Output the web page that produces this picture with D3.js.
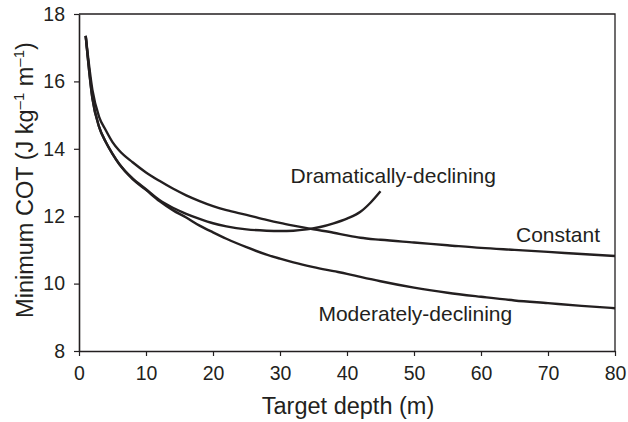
<!DOCTYPE html>
<html>
<head>
<meta charset="utf-8">
<script src="https://cdn.jsdelivr.net/npm/d3@7"></script>
<style>
  html, body { margin: 0; padding: 0; background: #fff; }
  svg { display: block; }
  text { font-family: "Liberation Sans", Arial, Helvetica, sans-serif; fill: #231f20; }
</style>
</head>
<body>
<svg id="chart" width="628" height="422"></svg>
<script>
// Minimum cost of transport versus target dive depth for three scenarios
const depths = [1, 2, 3, 4, 5, 6, 8, 10, 12, 14, 16, 18, 20, 22, 25, 28, 30, 32, 35, 38, 40, 42, 45, 50, 55, 60, 65, 70, 75, 80];
const constantCOT = [17.35, 15.75, 14.95, 14.55, 14.2, 13.95, 13.6, 13.3, 13.05, 12.82, 12.62, 12.45, 12.3, 12.18, 12.04, 11.89, 11.8, 11.72, 11.61, 11.51, 11.43, 11.36, 11.3, 11.22, 11.14, 11.06, 11.0, 10.94, 10.88, 10.82];
const moderateCOT = [17.35, 15.5, 14.65, 14.2, 13.85, 13.55, 13.1, 12.78, 12.45, 12.18, 11.96, 11.72, 11.52, 11.33, 11.08, 10.86, 10.74, 10.63, 10.49, 10.37, 10.29, 10.2, 10.07, 9.88, 9.73, 9.61, 9.5, 9.42, 9.34, 9.27];
const dramaticDepths = [1, 2, 3, 4, 5, 6, 8, 10, 12, 14, 16, 18, 20, 22, 25, 28, 30, 32, 34, 36, 38, 40, 42, 43.5, 45];
const dramaticCOT = [17.35, 15.5, 14.65, 14.2, 13.85, 13.55, 13.12, 12.8, 12.48, 12.25, 12.07, 11.92, 11.79, 11.7, 11.61, 11.57, 11.56, 11.57, 11.61, 11.68, 11.79, 11.93, 12.13, 12.4, 12.74];
const xTicks = [0, 10, 20, 30, 40, 50, 60, 70, 80];
const yTicks = [8, 10, 12, 14, 16, 18];
const seriesLabels = [
  { text: "Dramatically-declining", depth: 46.9, value: 12.98 },
  { text: "Constant", depth: 71.5, value: 11.23 },
  { text: "Moderately-declining", depth: 50.2, value: 8.89 }
];

const svg = d3.select("#chart");
const margin = { left: 79, right: 13, top: 14, bottom: 71 };
const W = 628, H = 422;

const x = d3.scaleLinear().domain([0, 80]).range([margin.left, W - margin.right]);
const y = d3.scaleLinear().domain([8, 18]).range([H - margin.bottom, margin.top]);

const ink = "#231f20";

// frame: top and right edges
svg.append("path")
  .attr("d", `M${x(0)},${y(18)}H${x(80)}V${y(8)}`)
  .attr("fill", "none").attr("stroke", ink).attr("stroke-width", 1.3);

// x axis
const gx = svg.append("g")
  .attr("transform", `translate(0,${y(8)})`)
  .call(d3.axisBottom(x).tickValues(xTicks).tickSize(5).tickSizeOuter(0).tickPadding(10));
// y axis
const gy = svg.append("g")
  .attr("transform", `translate(${x(0)},0)`)
  .call(d3.axisLeft(y).tickValues(yTicks).tickSize(5).tickSizeOuter(0).tickPadding(9));

[gx, gy].forEach(g => {
  g.select(".domain").attr("stroke", ink).attr("stroke-width", 1.6);
  g.selectAll(".tick line").attr("stroke", ink).attr("stroke-width", 1.2);
  g.selectAll(".tick text")
    .attr("font-family", "'Liberation Sans', Arial, sans-serif")
    .attr("font-size", 19.5).attr("fill", ink);
});

// axis titles
svg.append("text")
  .attr("x", (x(0) + x(80)) / 2 + 1).attr("y", 414)
  .attr("text-anchor", "middle").attr("font-size", 23.5)
  .text("Target depth (m)");

const yTitle = svg.append("text")
  .attr("transform", `translate(33,180) rotate(-90)`)
  .attr("text-anchor", "middle").attr("font-size", 23.5);
yTitle.append("tspan").text("Minimum COT (J kg");
yTitle.append("tspan").attr("font-size", 15).attr("dy", -9).text("–1");
yTitle.append("tspan").attr("dy", 9).text(" m");
yTitle.append("tspan").attr("font-size", 15).attr("dy", -9).text("–1");
yTitle.append("tspan").attr("dy", 9).text(")");

// curves
const line = d3.line()
  .x(d => x(d[0])).y(d => y(d[1]))
  .curve(d3.curveMonotoneX);

const series = [
  d3.zip(depths, constantCOT),
  d3.zip(depths, moderateCOT),
  d3.zip(dramaticDepths, dramaticCOT)
];
svg.append("g").selectAll("path")
  .data(series).join("path")
  .attr("d", line)
  .attr("fill", "none").attr("stroke", ink)
  .attr("stroke-width", 2.4).attr("stroke-linejoin", "round");

// series labels
svg.append("g").selectAll("text")
  .data(seriesLabels).join("text")
  .attr("x", d => x(d.depth)).attr("y", d => y(d.value))
  .attr("text-anchor", "middle").attr("font-size", 21)
  .text(d => d.text);
</script>
</body>
</html>
